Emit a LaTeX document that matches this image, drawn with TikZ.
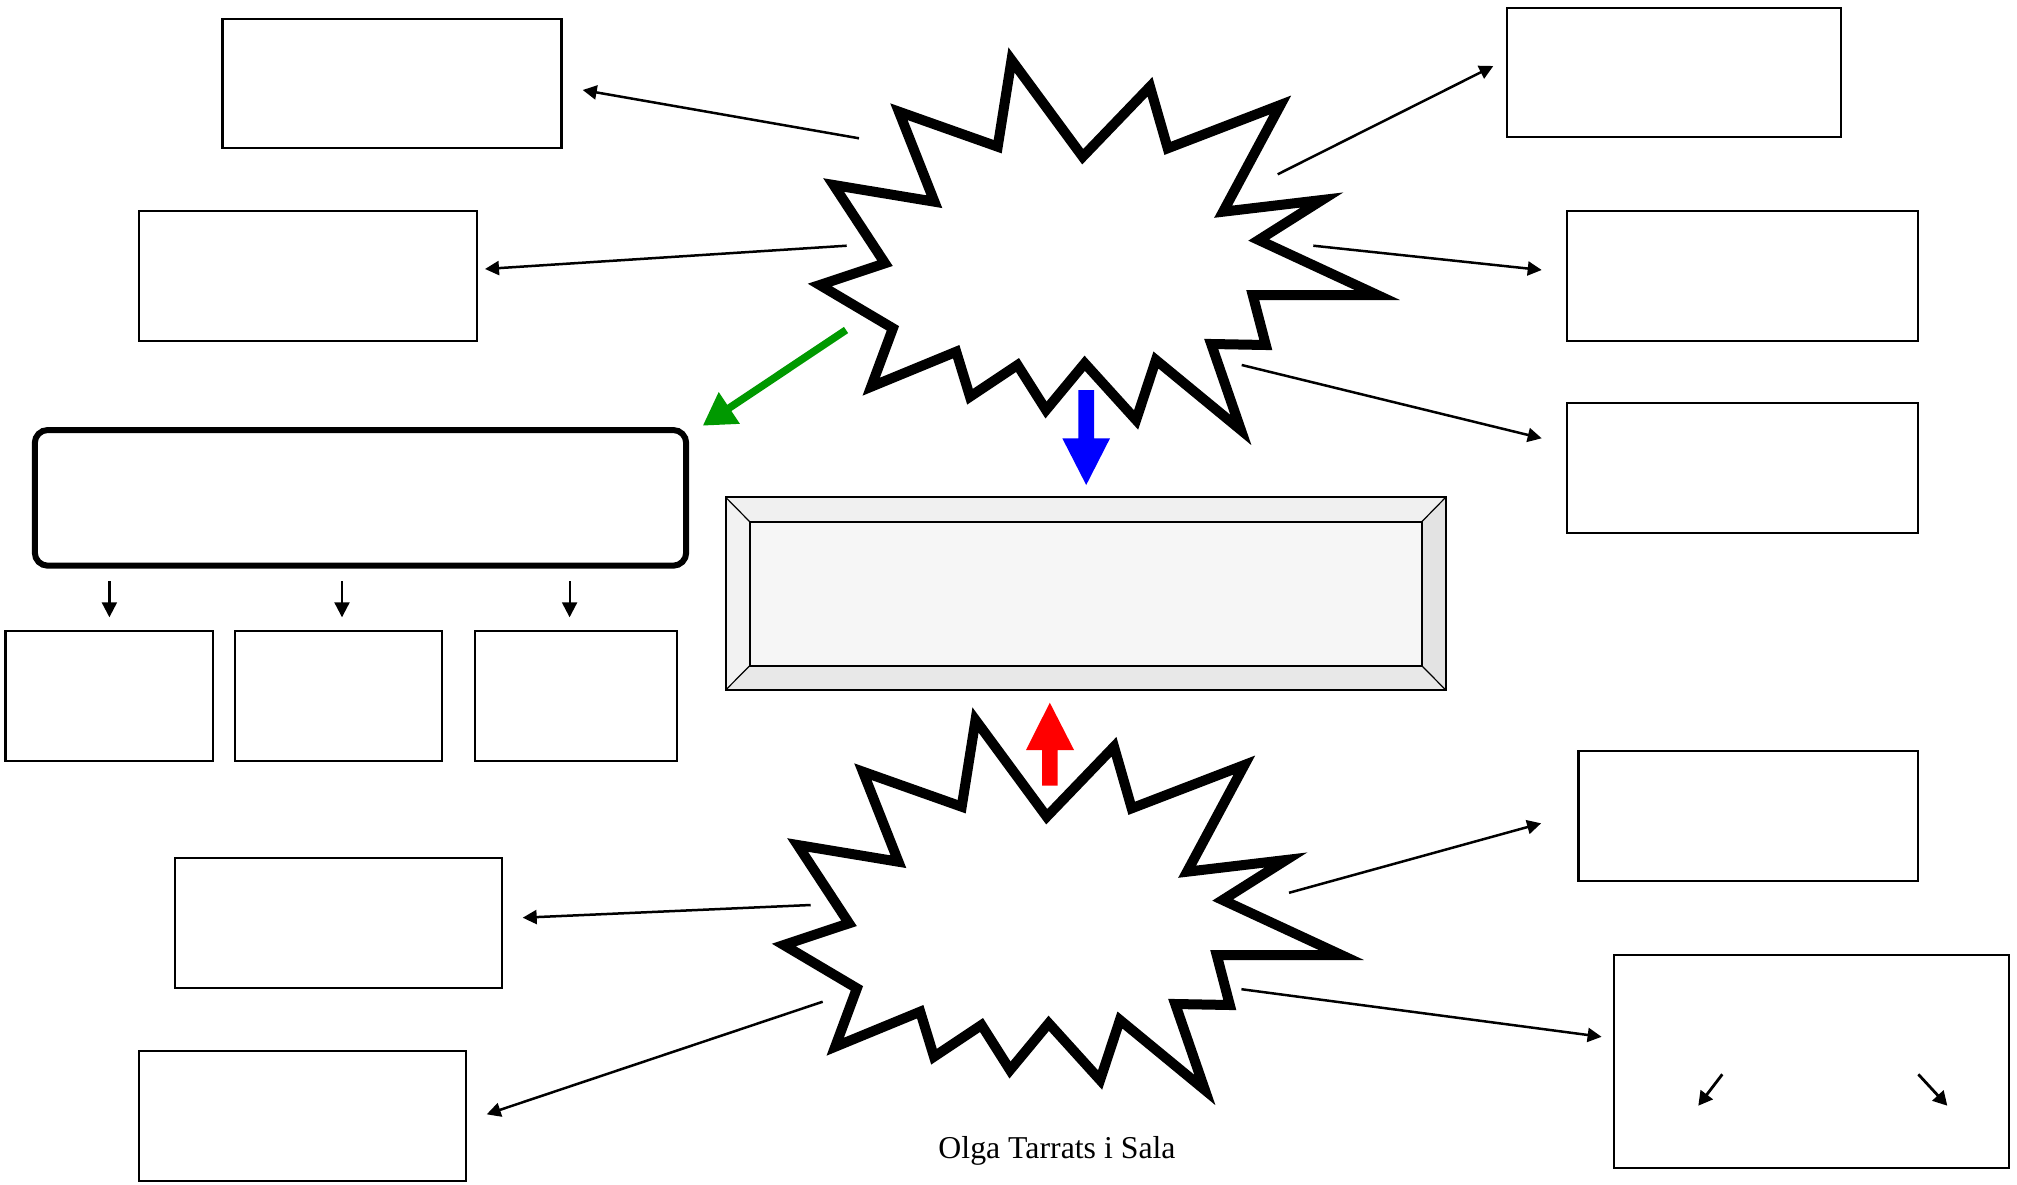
\documentclass[tikz,border=0pt]{standalone}
\usepackage{fontspec}
\setmainfont{Liberation Serif}
\usetikzlibrary{arrows.meta,fit}
\definecolor{bevtop}{HTML}{F0F0F0}
\definecolor{bevleft}{HTML}{F2F2F2}
\definecolor{bevright}{HTML}{E3E3E3}
\definecolor{bevbot}{HTML}{E8E8E8}
\definecolor{bevmid}{HTML}{F6F6F6}
\definecolor{arrgreen}{HTML}{009900}
\tikzset{
  box/.style={draw=black, line width=2.2pt, inner sep=0pt, outer sep=0pt},
  roundbox/.style={draw=black, line width=6pt, rounded corners=13pt, inner sep=0pt, outer sep=0pt},
  conn/.style={line width=2.5pt, -{Triangle[length=14pt,width=14pt]}},
  smallconn/.style={line width=2.2pt, -{Triangle[length=15pt,width=15pt]}},
  burstline/.style={draw=black, fill=white, line width=10pt, line join=miter, miter limit=20},
  bevelline/.style={draw=black, line width=2pt},
  starburst/.pic={
    \path[burstline] (1011.5,60) -- (1082.7,156.7) -- (1150,86.7) -- (1167.7,148.3) -- (1280.4,105)
      -- (1223.1,211.7) -- (1322,200) -- (1258.7,240) -- (1377.3,295) -- (1252.7,295)
      -- (1265.8,345) -- (1211.2,344) -- (1240.9,430) -- (1155.9,360) -- (1136.1,420)
      -- (1084.7,363.3) -- (1046,410) -- (1017.5,365) -- (970,396.7) -- (956.2,351.7)
      -- (871.2,386.7) -- (892.9,328.3) -- (819.8,285) -- (885,263.3) -- (833.6,185)
      -- (934.4,201.7) -- (898.9,111.7) -- (997.7,146.7) -- cycle;
  }
}
\begin{document}
\begin{tikzpicture}[x=1pt,y=-1pt]
\useasboundingbox (0,0) rectangle (2017,1185);

% starbursts
\pic (top) at (0,0) {starburst};
\pic (bot) at (-36,660) {starburst};

% plain boxes
\node[box, fit={(222.5,19.3) (561.5,148.3)}] (A) {};
\node[box, fit={(138.9,211) (477.3,340.9)}] (B) {};
\node[box, fit={(1506.7,7.7) (1840.8,136.7)}] (C) {};
\node[box, fit={(1566.8,211) (1918,340.9)}] (D) {};
\node[box, fit={(1566.8,402.6) (1918,532.6)}] (E) {};
\node[box, fit={(1578.5,751.3) (1918,881.2)}] (F) {};
\node[box, fit={(1614.3,955) (2009.3,1168.3)}] (G) {};
\node[box, fit={(175,858) (501.7,988.3)}] (H) {};
\node[box, fit={(138.9,1051) (465.7,1181)}] (I) {};
\node[box, fit={(5.4,630.7) (213,760.7)}] (S1) {};
\node[box, fit={(234.8,630.7) (442,760.7)}] (S2) {};
\node[box, fit={(475,630.7) (677.2,760.7)}] (S3) {};
\node[roundbox, fit={(34.8,430) (686.2,565.7)}] (R) {};

% bevel box
\coordinate (bo1) at (725.7,497.3);
\coordinate (bo2) at (1445.7,497.3);
\coordinate (bo3) at (1445.7,690);
\coordinate (bo4) at (725.7,690);
\coordinate (bi1) at (749.7,521.7);
\coordinate (bi2) at (1421.8,521.7);
\coordinate (bi3) at (1421.8,665.7);
\coordinate (bi4) at (749.7,665.7);
\fill[bevtop] (bo1) -- (bo2) -- (bi2) -- (bi1) -- cycle;
\fill[bevright] (bo2) -- (bo3) -- (bi3) -- (bi2) -- cycle;
\fill[bevbot] (bo3) -- (bo4) -- (bi4) -- (bi3) -- cycle;
\fill[bevleft] (bo4) -- (bo1) -- (bi1) -- (bi4) -- cycle;
\node[bevelline, fill=bevmid, inner sep=0pt, fit=(bi1)(bi3)] (P) {};
\draw[bevelline] (bo1) rectangle (bo3);
\draw[line width=1.2pt] (bo1) -- (bi1) (bo2) -- (bi2) (bo3) -- (bi3) (bo4) -- (bi4);

% connector end points
\coordinate (tA0) at (859,138.3);   \coordinate (tA1) at (582.7,90);
\coordinate (tB0) at (846.7,245.7); \coordinate (tB1) at (485,269);
\coordinate (tC0) at (1277.7,174.3);\coordinate (tC1) at (1493.3,66);
\coordinate (tD0) at (1313.3,245.7);\coordinate (tD1) at (1541.7,270);
\coordinate (tE0) at (1241.7,365);  \coordinate (tE1) at (1541.7,438.3);
\coordinate (tH0) at (810.7,905);   \coordinate (tH1) at (522.7,917.7);
\coordinate (tI0) at (822.7,1001.7);\coordinate (tI1) at (486.7,1114.3);
\coordinate (tF0) at (1289,892.8);  \coordinate (tF1) at (1541.1,823.3);
\coordinate (tG0) at (1241.4,989.2);\coordinate (tG1) at (1601.6,1036.8);
\coordinate (gr0) at (846,330);     \coordinate (gr1) at (702.7,425.7);

\draw[conn] (tA0) -- (tA1);
\draw[conn] (tB0) -- (tB1);
\draw[conn] (tC0) -- (tC1);
\draw[conn] (tD0) -- (tD1);
\draw[conn] (tE0) -- (tE1);
\draw[conn] (tH0) -- (tH1);
\draw[conn] (tI0) -- (tI1);
\draw[conn] (tF0) -- (tF1);
\draw[conn] (tG0) -- (tG1);
\draw[arrgreen, line width=7.5pt, -{Triangle[length=32pt,width=36pt]}] (gr0) -- (gr1);

% block arrows
\fill[blue] (1078.3,390) -- (1094,390) -- (1094,438.3) -- (1110,438.3) -- (1086.2,485)
  -- (1062.3,438.3) -- (1078.3,438.3) -- cycle;
\fill[red] (1042,785.7) -- (1057.7,785.7) -- (1057.7,750) -- (1074,750) -- (1049.8,702.7)
  -- (1026,750) -- (1042,750) -- cycle;

% small arrows below the rounded box
\coordinate (s10) at (109.4,581); \coordinate (s11) at (109.4,617.3);
\coordinate (s20) at (342,581);   \coordinate (s21) at (342,617.3);
\coordinate (s30) at (569.6,581); \coordinate (s31) at (569.6,617.3);
\draw[smallconn] (s10) -- (s11);
\draw[smallconn] (s20) -- (s21);
\draw[smallconn] (s30) -- (s31);

% arrows inside box G
\coordinate (g10) at (1722.3,1074.3); \coordinate (g11) at (1698.3,1105.7);
\coordinate (g20) at (1918.3,1074.3); \coordinate (g21) at (1947.3,1105.7);
\draw[line width=2.8pt, -{Triangle[length=14pt,width=15pt]}] (g10) -- (g11);
\draw[line width=2.8pt, -{Triangle[length=14pt,width=15pt]}] (g20) -- (g21);

% author
\node[anchor=base, inner sep=0pt, font=\fontsize{31.8}{38}\selectfont] (author) at (1057,1158.3) {Olga Tarrats i Sala};
\end{tikzpicture}
\end{document}
